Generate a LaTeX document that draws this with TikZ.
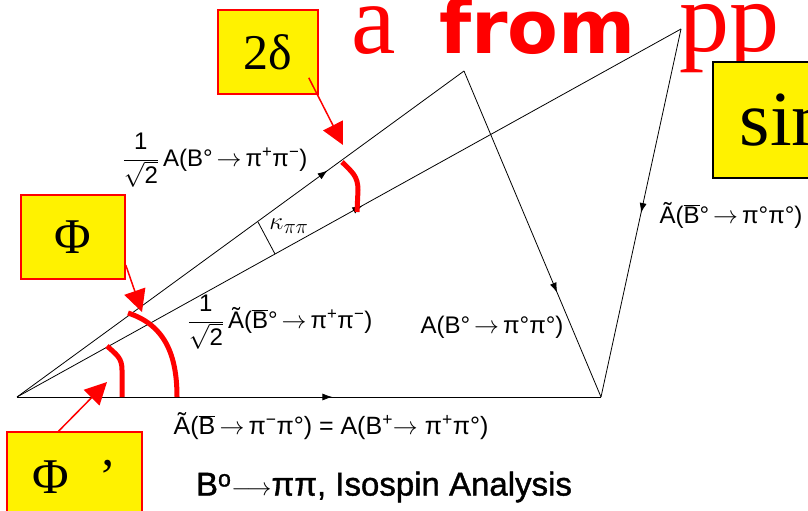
\documentclass[tikz,border=0pt]{standalone}
\usepackage{fontspec}
\setmainfont{Liberation Serif}
\setsansfont{Liberation Sans}
\newfontfamily\headfont{DejaVu Sans}
\newfontfamily\capfont{Liberation Sans}[FakeBold=1.2]
\usetikzlibrary{arrows.meta,decorations.markings}

\newcommand{\ra}{${\rightarrow}$}
\newcommand{\half}{$\displaystyle\frac{\mbox{1}}{\sqrt{\mbox{2}}}$\,}

\tikzset{
  vec/.style={line width=0.8pt, postaction={decorate},
    decoration={markings, mark=at position #1 with {\arrow{Latex[length=10pt,width=7pt]}}}},
  callout/.style={draw=red, line width=1.5pt, fill=yellow, inner sep=0pt,
    font=\fontsize{50}{50}\selectfont},
  pointer/.style={red, line width=1.5pt, -{Triangle[length=22pt,width=22pt]}},
  marker/.style={red, line width=5pt},
  lbl/.style={font=\sffamily\fontsize{24}{26}\selectfont, inner sep=0pt}
}

\begin{document}
\begin{tikzpicture}[x=1pt,y=-1pt]
    \useasboundingbox (0,0) rectangle (808,511);
    % title, cut by the top edge
    \node[red, anchor=base west, inner sep=0pt, font=\fontsize{100}{100}\selectfont] (ha) at (351,53) {a};
    \node[red, anchor=base west, inner sep=0pt, font=\headfont\bfseries\fontsize{74}{74}\selectfont] (hfrom) at (439,53) {from};
    \node[red, anchor=base west, inner sep=0pt, font=\fontsize{100}{100}\selectfont] (hpp) at (679,52) {pp};
    \node[draw=black, line width=1.5pt, fill=yellow, anchor=west, minimum height=116pt,
          minimum width=160pt, inner xsep=27pt, text width=133pt,
          font=\fontsize{78}{78}\selectfont] (sinbox) at (712,120) {sin};

    % the two triangles
    \coordinate (O) at (17,397);
    \coordinate (T1) at (464,71);
    \coordinate (T2) at (681,29);
    \coordinate (R) at (601,397);
    \draw[vec=0.695] (O) -- (T1);
    \draw[vec=0.68] (T1) -- (R);
    \draw[vec=0.52] (O) -- (T2);
    \draw[vec=0.5] (T2) -- (R);
    \draw[vec=0.54] (O) -- (R);
    \draw[line width=0.8pt] (258,222) -- (275,254);

    % labels
    \node[lbl] (apm) at (215,160) {\half A(B°\,\ra\,π\textsuperscript{+}π\textsuperscript{−})};
    \node[font=\fontsize{32}{34}\selectfont, inner sep=0pt] (kappa) at (289,226) {$\kappa_{\pi\pi}$};
    \node[lbl] (abpm) at (280,322) {\half Ã($\overline{\mbox{B}}$°\,\ra\,π\textsuperscript{+}π\textsuperscript{−})};
    \node[lbl] (azz) at (492,327) {A(B°\,\ra\,π°π°)};
    \node[lbl] (abzz) at (731,215) {Ã($\overline{\mbox{B}}$°\,\ra\,π°π°)};
    \node[lbl, font=\sffamily\fontsize{25}{27}\selectfont] (apz) at (331,426) {Ã($\overline{\mbox{B}}$\,\ra\,π\textsuperscript{−}π°) = A(B\textsuperscript{+}\ra\ π\textsuperscript{+}π°)};
    \node[font=\capfont\fontsize{33}{35}\selectfont, inner sep=0pt] (caption) at (384,487)
        {B\textsuperscript{o}$\longrightarrow$ππ, Isospin Analysis};

    % red angle marks
    \draw[marker] (342,162) .. controls (352,172) and (358,176) .. (358,190) -- (357,212);
    \draw[marker] (128,313) .. controls (165,325) and (177,355) .. (177,397);
    \draw[marker] (107,346) .. controls (117,355) and (122,358) .. (122,370) -- (122,397);

    % callouts
    \node[callout, minimum width=100pt, minimum height=84pt] (d2box) at (268,52) {2δ};
    \node[callout, minimum width=104pt, minimum height=84pt] (phibox) at (73,237) {Φ};
    \node[callout, minimum width=135pt, minimum height=90pt] (phipbox) at (74.5,477) {Φ\hspace{30pt}’};
    \coordinate (d2tip) at (343,145);
    \coordinate (phitip) at (142,312);
    \coordinate (phiptip) at (107,382);
    \draw[pointer] ([xshift=-10pt,yshift=17pt]d2box.south east) -- (d2tip);
    \draw[pointer] ([yshift=-28pt]phibox.east) -- (phitip);
    \draw[pointer] ([xshift=-16pt]phipbox.north) -- (phiptip);
\end{tikzpicture}
\end{document}
